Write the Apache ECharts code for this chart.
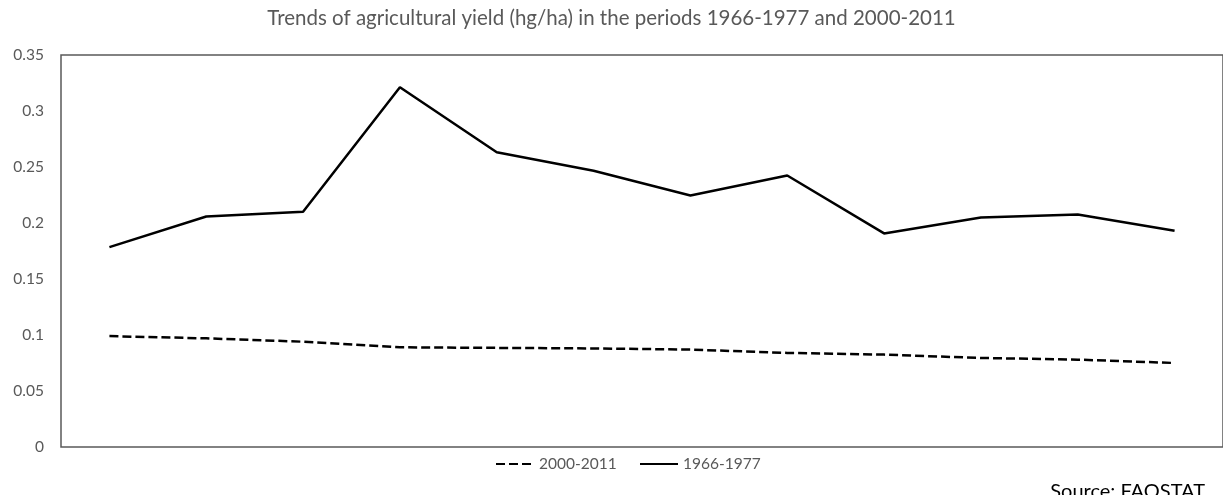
<!DOCTYPE html>
<html>
<head>
<meta charset="utf-8">
<script src="https://cdn.jsdelivr.net/npm/echarts@6/dist/echarts.min.js"></script>
<style>
  html, body { margin: 0; padding: 0; background: #fff; }
  #chart { width: 1223px; height: 495px; }
</style>
</head>
<body>
<div id="chart"></div>
<script>
const titleText = 'Trends of agricultural yield (hg/ha) in the periods 1966-1977 and 2000-2011';
const sourceText = 'Source: FAOSTAT';
const categories = ['1', '2', '3', '4', '5', '6', '7', '8', '9', '10', '11', '12'];
const seriesNames = ['2000-2011', '1966-1977'];
const values2000_2011 = [0.099, 0.097, 0.094, 0.089, 0.0885, 0.088, 0.087, 0.084, 0.0825, 0.0795, 0.078, 0.075];
const values1966_1977 = [0.1785, 0.2058, 0.210, 0.3212, 0.2632, 0.2466, 0.2245, 0.2424, 0.1907, 0.2049, 0.2076, 0.1931];
const yTickLabels = ['0', '0.05', '0.1', '0.15', '0.2', '0.25', '0.3', '0.35'];

const chart = echarts.init(document.getElementById('chart'), null, { renderer: 'canvas' });
const fontFamily = 'Lato, "Open Sans", sans-serif';
const gray = '#595959';

const legendBase = {
  top: 451,
  itemWidth: 38,
  itemHeight: 14,
  itemStyle: { opacity: 0 },
  textStyle: { fontFamily, fontSize: 15.5, color: gray }
};

chart.setOption({
  animation: false,
  backgroundColor: '#ffffff',
  title: {
    text: titleText,
    left: 'center',
    top: 3,
    textStyle: { fontFamily, fontSize: 20.5, fontWeight: 'normal', color: gray }
  },
  legend: [
    Object.assign({}, legendBase, { left: 490, data: [seriesNames[0]] }),
    Object.assign({}, legendBase, { left: 634, data: [seriesNames[1]] })
  ],
  grid: {
    left: 61,
    top: 55,
    width: 1167,
    height: 392,
    show: true,
    borderColor: '#595959',
    borderWidth: 1.5,
    containLabel: false
  },
  xAxis: {
    type: 'category',
    data: categories,
    boundaryGap: true,
    axisLine: { show: false },
    axisTick: { show: false },
    axisLabel: { show: false },
    splitLine: { show: false }
  },
  yAxis: {
    type: 'value',
    min: 0,
    max: 0.35,
    interval: 0.05,
    axisLine: { show: false },
    axisTick: { show: false },
    splitLine: { show: false },
    axisLabel: {
      margin: 17,
      fontFamily,
      fontSize: 15.5,
      color: gray,
      formatter: (v) => yTickLabels[Math.round(v / 0.05)]
    }
  },
  series: [
    {
      name: seriesNames[0],
      type: 'line',
      data: values2000_2011,
      symbol: 'none',
      showSymbol: false,
      lineStyle: { color: '#000000', width: 2.5, type: [9, 4] },
      itemStyle: { color: '#000000' }
    },
    {
      name: seriesNames[1],
      type: 'line',
      data: values1966_1977,
      symbol: 'none',
      showSymbol: false,
      lineStyle: { color: '#000000', width: 2.5, type: 'solid' },
      itemStyle: { color: '#000000' }
    }
  ],
  graphic: [
    {
      type: 'text',
      right: 18,
      top: 482,
      style: {
        text: sourceText,
        fontFamily,
        fontSize: 20,
        fill: '#000000'
      }
    }
  ]
});
</script>
</body>
</html>
